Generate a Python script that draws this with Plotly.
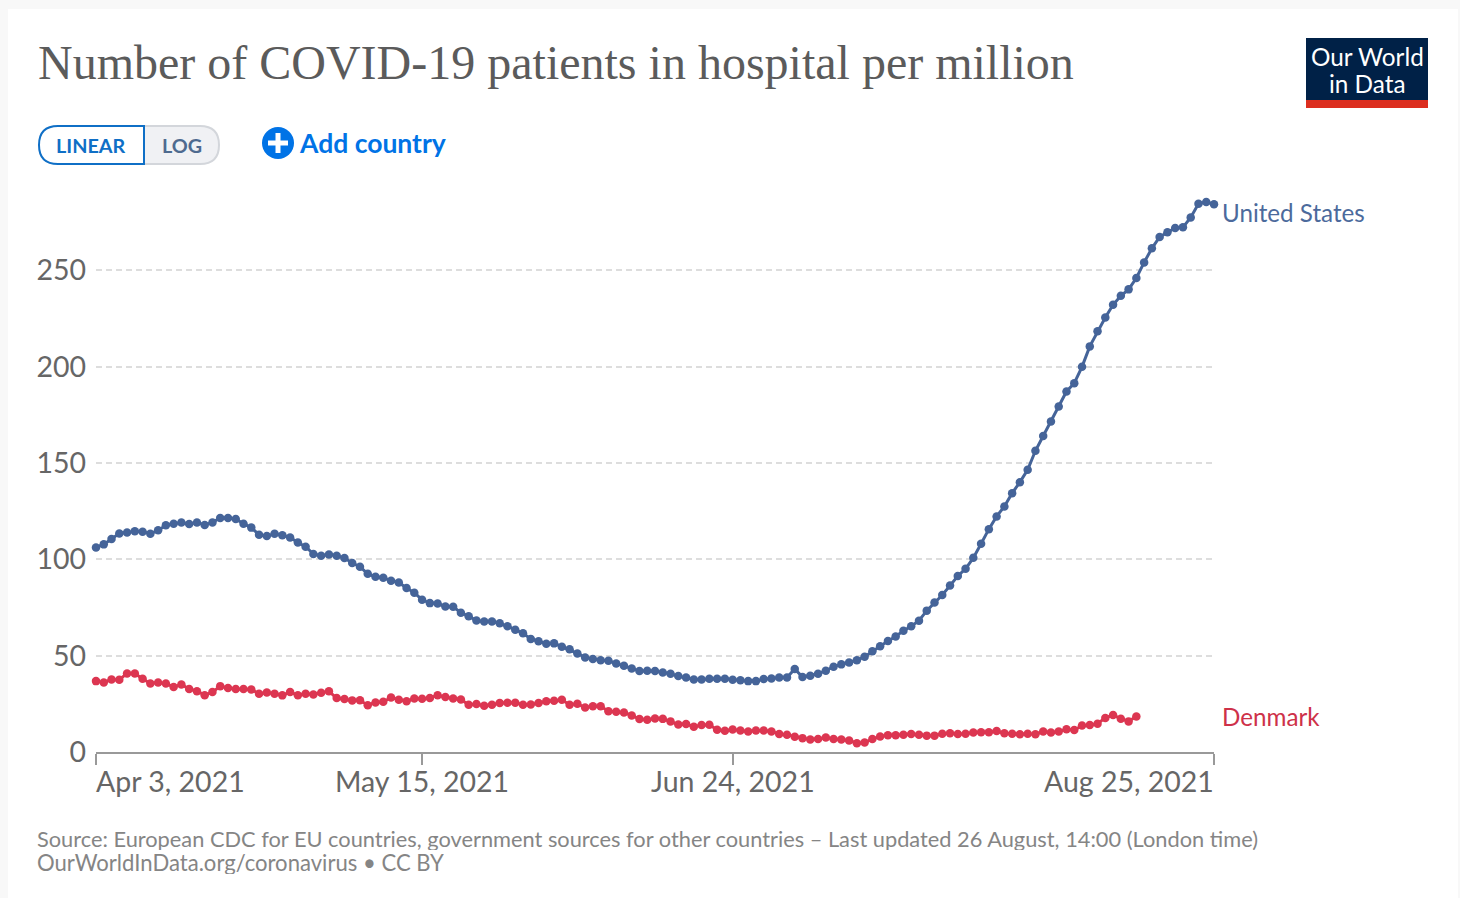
import pandas as pd
import plotly.graph_objects as go

# values, one per day from Apr 3 2021
united_states = [
    106.2, 107.8, 110.6, 113.5, 114.0, 114.6, 114.4, 113.3, 115.1, 117.7,
    118.5, 119.1, 118.4, 119.1, 117.9, 119.2, 121.5, 121.5, 121.0, 118.5,
    116.5, 112.8, 112.1, 113.3, 112.5, 111.4, 108.8, 106.6, 102.8, 101.9,
    102.6, 101.9, 100.7, 98.1, 96.2, 92.5, 91.0, 90.5, 88.9, 88.0,
    85.1, 82.7, 79.0, 77.3, 77.1, 75.6, 75.4, 72.3, 70.5, 68.3,
    67.8, 67.8, 66.8, 65.3, 63.5, 61.6, 58.7, 57.5, 56.2, 56.4,
    54.7, 53.3, 51.2, 49.1, 48.3, 47.6, 47.4, 46.0, 44.8, 43.4,
    42.0, 42.2, 42.0, 41.3, 40.6, 39.4, 38.7, 37.7, 37.7, 38.0,
    38.0, 38.0, 37.5, 37.3, 36.8, 36.8, 37.9, 38.2, 38.7, 38.7,
    43.1, 38.9, 39.6, 40.6, 42.2, 44.3, 45.5, 46.5, 47.6, 49.5,
    52.3, 54.9, 57.6, 60.0, 63.0, 65.3, 68.2, 73.4, 77.6, 81.5,
    86.4, 91.4, 95.1, 100.8, 108.1, 115.7, 122.3, 127.5, 134.4, 140.1,
    146.5, 156.4, 164.1, 171.6, 179.4, 187.2, 191.5, 200.0, 210.6, 218.5,
    225.6, 232.2, 236.9, 240.2, 246.1, 254.2, 261.5, 267.4, 269.8, 272.1,
    272.4, 277.5, 284.6, 285.6, 284.4,
]
denmark = [
    36.8, 36.1, 37.7, 37.5, 40.8, 40.8, 38.0, 35.6, 36.1, 35.6,
    33.7, 35.1, 32.7, 31.6, 29.5, 31.1, 34.2, 33.2, 32.7, 32.7,
    32.5, 30.2, 30.9, 30.2, 29.4, 31.1, 29.5, 30.2, 29.9, 30.8,
    31.5, 28.0, 27.5, 26.8, 26.9, 24.3, 25.7, 26.1, 28.3, 27.1,
    26.3, 27.8, 27.6, 28.0, 29.5, 28.5, 27.8, 27.3, 24.5, 24.9,
    24.0, 24.5, 25.4, 25.6, 25.6, 24.5, 24.7, 25.4, 26.3, 26.6,
    27.1, 24.5, 25.0, 23.1, 23.8, 23.7, 21.2, 20.9, 20.5, 19.0,
    17.1, 16.7, 17.4, 17.2, 15.9, 14.3, 14.5, 13.1, 14.0, 14.1,
    11.5, 11.0, 11.7, 11.2, 10.7, 11.2, 11.2, 10.7, 9.4, 8.9,
    7.9, 7.2, 6.5, 6.8, 7.5, 6.8, 6.5, 6.0, 4.6, 4.9,
    6.7, 8.1, 8.7, 8.7, 9.0, 9.4, 9.0, 8.5, 8.5, 9.5,
    9.7, 9.4, 9.5, 10.1, 10.2, 10.2, 10.9, 9.7, 9.5, 9.2,
    9.5, 9.2, 10.6, 10.1, 10.6, 11.8, 11.4, 13.7, 14.0, 14.7,
    17.7, 19.2, 17.3, 15.9, 18.4,
]
y_ticks = [0, 50, 100, 150, 200, 250]
x_ticks = ["2021-04-03", "2021-05-15", "2021-06-24", "2021-08-25"]
x_tick_labels = ["Apr 3, 2021", "May 15, 2021", "Jun 24, 2021", "Aug 25, 2021"]
x_tick_anchors = ["left", "center", "center", "right"]
x_tick_shifts = [-2, 0, 0, 2]

W, H = 1460, 898
BLUE = "#456499"
RED = "#dc3651"
GREY = "#666666"


def px(x):
    return x / W


def py(y):
    return 1 - y / H


def rect(x0, y0, x1, y1, fill, line=None, layer="below"):
    return dict(
        type="rect", xref="paper", yref="paper", layer=layer,
        x0=px(x0), x1=px(x1), y0=py(y0), y1=py(y1),
        fillcolor=fill, line=dict(width=1.5 if line else 0, color=line or fill),
    )


def label(x, y, text, size, color, anchor="left", family="Lato"):
    return dict(
        xref="paper", yref="paper", x=px(x), y=py(y), text=text, showarrow=False,
        xanchor=anchor, yanchor="middle", align=anchor,
        font=dict(family=family, size=size, color=color),
    )


def pill(x0, x1, y0, y1, r, left, fill, line):
    # half rounded button, the two sit side by side
    a0, b0, a1, b1 = px(x0), py(y0), px(x1), py(y1)
    rx, ry = r / W, r / H
    if left:
        path = (f"M {a1} {b0} L {a0 + rx} {b0} Q {a0} {b0} {a0} {b0 - ry} "
                f"L {a0} {b1 + ry} Q {a0} {b1} {a0 + rx} {b1} L {a1} {b1} Z")
    else:
        path = (f"M {a0} {b0} L {a1 - rx} {b0} Q {a1} {b0} {a1} {b0 - ry} "
                f"L {a1} {b1 + ry} Q {a1} {b1} {a1 - rx} {b1} L {a0} {b1} Z")
    return dict(type="path", xref="paper", yref="paper", path=path,
                fillcolor=fill, line=dict(color=line, width=2), layer="below")


dates = pd.date_range("2021-04-03", periods=len(united_states))

fig = go.Figure()
fig.add_trace(go.Scatter(
    x=dates, y=united_states, name="United States", mode="lines+markers",
    line=dict(color=BLUE, width=3), marker=dict(color=BLUE, size=8.5), cliponaxis=False,
))
fig.add_trace(go.Scatter(
    x=dates[:len(denmark)], y=denmark, name="Denmark", mode="lines+markers",
    line=dict(color=RED, width=3), marker=dict(color=RED, size=8.5), cliponaxis=False,
))

shapes = [
    rect(8, 9, 1458, 898, "white"),
    pill(144, 219, 126, 164, 19, False, "#f0f1f4", "#d3d6db"),
    pill(39, 144, 126, 164, 19, True, "white", "#0f6fc6"),
    dict(type="circle", xref="paper", yref="paper", layer="below",
         x0=px(262), x1=px(294), y0=py(127), y1=py(159),
         fillcolor="#0073e6", line=dict(width=0)),
    rect(268, 140.5, 288, 145.5, "white"),
    rect(275.5, 133, 280.5, 153, "white"),
    rect(1306, 38, 1428, 100, "#002147"),
    rect(1306, 100, 1428, 108, "#dc2e1f"),
]

annotations = [
    label(90, 145, "<b>LINEAR</b>", 19.8, "#0f6fc6", "center"),
    label(182, 145, "<b>LOG</b>", 19.8, "#4e6a8f", "center"),
    label(297, 143, "<b>Add country</b>", 26.5, "#0073e6"),
    label(1367, 57, "Our World", 24.3, "white", "center"),
    label(1367, 83.5, "in Data", 24.3, "white", "center"),
    label(1220, 212.5, "United States", 24.2, "#4c6a9c"),
    label(1220, 716, "Denmark", 24.2, "#ce3149"),
    label(35, 838, "Source: European CDC for EU countries, government sources for other "
                   "countries – Last updated 26 August, 14:00 (London time)", 21.8, "#858585"),
    label(35, 862, "OurWorldInData.org/coronavirus • CC BY", 22.1, "#858585"),
]
annotations[-2]["height"] = 23
annotations[-1]["height"] = 23
for tick, text, anchor, shift in zip(x_ticks, x_tick_labels, x_tick_anchors, x_tick_shifts):
    annotations.append(dict(
        xref="x", yref="paper", x=tick, y=py(781), text=text, showarrow=False,
        xanchor=anchor, yanchor="middle", xshift=shift,
        font=dict(family="Lato", size=28.5, color=GREY),
    ))

fig.update_layout(
    width=W, height=H, autosize=False, showlegend=False,
    margin=dict(l=0, r=0, t=0, b=0),
    paper_bgcolor="#f8f8f8", plot_bgcolor="rgba(0,0,0,0)",
    font=dict(family="Lato", color=GREY),
    title=dict(
        text="Number of COVID-19 patients in hospital per million",
        x=px(38), xanchor="left", xref="paper", y=py(62), yanchor="middle",
        font=dict(family="Liberation Serif", size=48, color="#5b5b5b"),
    ),
    shapes=shapes, annotations=annotations,
    xaxis=dict(
        type="date", domain=[px(96), px(1214)], range=["2021-04-03", "2021-08-25"],
        tickvals=x_ticks, showticklabels=False, showgrid=False, automargin=False,
        ticks="outside", ticklen=11, tickwidth=2, tickcolor="#999999",
        showline=True, linecolor="#999999", linewidth=2, zeroline=False,
    ),
    yaxis=dict(
        domain=[py(752), py(200)], range=[0, 286.6], tickvals=y_ticks, automargin=False,
        tickfont=dict(family="Lato", size=28.5, color=GREY), ticks="", ticklabelstandoff=9,
        showgrid=True, gridcolor="#dddddd", gridwidth=2, griddash="6px,4px",
        zeroline=False, showline=False,
    ),
)

fig.write_html(
    "out.html",
    config={"displayModeBar": False, "responsive": False},
    post_script="document.body.style.margin='0';document.documentElement.style.overflow='hidden';",
)
